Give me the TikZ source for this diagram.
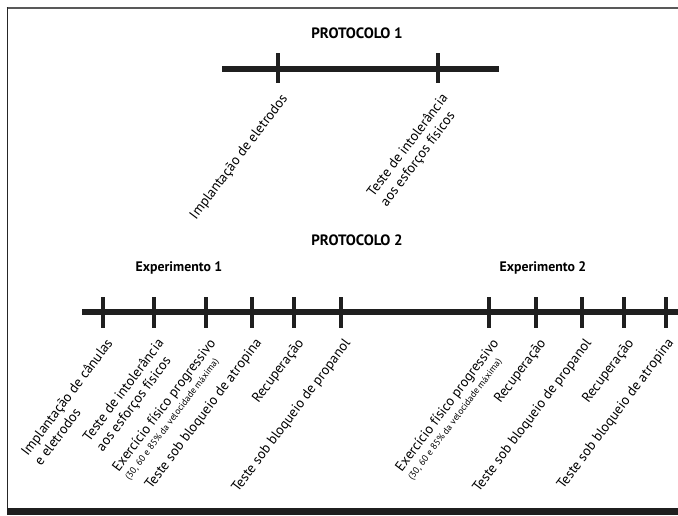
\documentclass[tikz,border=0pt]{standalone}
\usepackage{fontspec}
\setmainfont{PT Sans}
\begin{document}
\begin{tikzpicture}[x=1pt,y=1pt,
  axis/.style={line width=5.5pt, black!88},
  tickmark/.style={line width=4.5pt, black!88},
  lab/.style={rotate=53, anchor=north east, align=left, inner sep=0pt,
    font=\fontsize{14}{16.5}\selectfont},
  ttl/.style={font=\bfseries\fontsize{15}{17}\selectfont},
  subttl/.style={font=\bfseries\fontsize{13.8}{16}\selectfont}]
\newcommand{\smalltxt}{\fontsize{9.3}{10}\selectfont}
\useasboundingbox (0,0) rectangle (678,-515);
% frame
\coordinate (ftl) at (6.5,-7.5);
\coordinate (ftr) at (678,-7.5);
\coordinate (fbl) at (7.3,-508);
\draw[black!65, line width=2pt] (ftl) -- (ftr);
\draw[black!85, line width=1.6pt] (7.3,-7) -- (fbl);
\fill[black!88] (7,-508) rectangle (678,-515);

% Protocol 1
\node[ttl] (p1) at (357,-33) {PROTOCOLO 1};
\coordinate (p1s) at (222,-69);
\coordinate (p1e) at (499,-69);
\draw[axis] (p1s) -- (p1e);
\foreach \x/\n in {278/pa,438/pb}{
  \coordinate (\n top) at (\x,-53);
  \coordinate (\n bot) at (\x,-83);
  \draw[tickmark] (\n top) -- (\n bot);
}
\node[lab] (lpa) at ([shift={(2,-9)}]pabot) {Implantação de eletrodos};
\node[lab] (lpb) at ([shift={(2,-9)}]pbbot) {Teste de intolerância\\aos esforços físicos};

% Protocol 2
\node[ttl] (p2) at (357,-240) {PROTOCOLO 2};
\node[subttl] (e1) at (179,-268) {Experimento 1};
\node[subttl] (e2) at (543,-268) {Experimento 2};
\coordinate (p2s) at (82,-312);
\coordinate (p2e) at (678,-312);
\draw[axis] (p2s) -- (p2e);
\foreach \x/\n in {103/a,154/b,206/c,252/d,294/e,341/f,489/g,536/h,582/i,624/j,666/k}{
  \coordinate (\n top) at (\x,-297);
  \coordinate (\n bot) at (\x,-328);
  \draw[tickmark] (\n top) -- (\n bot);
}
\node[lab] (la) at ([shift={(2,-9)}]abot) {Implantação de cânulas\\e eletrodos};
\node[lab] (lb) at ([shift={(2,-9)}]bbot) {Teste de intolerância\\aos esforços físicos};
\node[lab] (lc) at ([shift={(2,-9)}]cbot) {Exercício físico progressivo\\[-3pt]{\smalltxt (30, 60 e 85\% da velocidade máxima)}};
\node[lab] (ld) at ([shift={(2,-9)}]dbot) {Teste sob bloqueio de atropina};
\node[lab] (le) at ([shift={(2,-9)}]ebot) {Recuperação};
\node[lab] (lf) at ([shift={(2,-9)}]fbot) {Teste sob bloqueio de propanol};
\node[lab] (lg) at ([shift={(2,-9)}]gbot) {Exercício físico progressivo\\[-3pt]{\smalltxt (30, 60 e 85\% da velocidade máxima)}};
\node[lab] (lh) at ([shift={(2,-9)}]hbot) {Recuperação};
\node[lab] (li) at ([shift={(2,-9)}]ibot) {Teste sob bloqueio de propanol};
\node[lab] (lj) at ([shift={(2,-9)}]jbot) {Recuperação};
\node[lab] (lk) at ([shift={(0,-9)}]kbot) {Teste sob bloqueio de atropina};
\end{tikzpicture}
\end{document}
